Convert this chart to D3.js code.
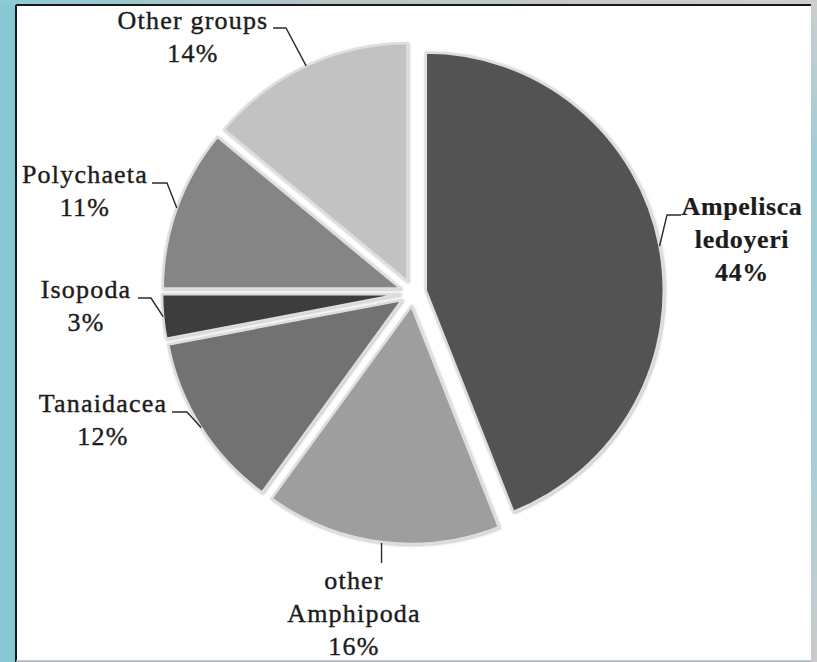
<!DOCTYPE html>
<html>
<head>
<meta charset="utf-8">
<script src="https://cdn.jsdelivr.net/npm/d3@7"></script>
<style>
  html, body { margin: 0; padding: 0; background: #85c9d5; }
  svg { display: block; }
</style>
</head>
<body>
<svg id="chart" width="817" height="662"></svg>
<script>
// Composition of the macrobenthic community (% of individuals)
const categories = ["Ampelisca ledoyeri", "other Amphipoda", "Tanaidacea", "Isopoda", "Polychaeta", "Other groups"];
const shares = [44, 16, 12, 3, 11, 14];
const labelLines = [["Ampelisca", "ledoyeri"], ["other", "Amphipoda"], ["Tanaidacea"], ["Isopoda"], ["Polychaeta"], ["Other groups"]];

// Grey fills for each slice, in category order
const sliceFills = ["#535353", "#9e9e9e", "#727272", "#3e3e3e", "#858585", "#c2c2c2"];

// Label placement: centre x, first baseline y, and leader elbow points from the text to the slice
const labelLayout = [
  { x: 742, y: 215, bold: true, lead: [[681, 215], [667, 215]] },
  { x: 354, y: 589, bold: false, lead: [], vertical: 563 },
  { x: 103, y: 412, bold: false, lead: [[172, 412], [187, 412]] },
  { x: 86,  y: 298, bold: false, lead: [[138, 298], [151, 298]] },
  { x: 85,  y: 183, bold: false, lead: [[152, 183], [167, 183]] },
  { x: 193, y: 29,  bold: false, lead: [[273, 28], [286, 28]] }
];

const W = 817, H = 662;
const cx = 413, cy = 293, R = 238, explode = 13;
const lineGap = 33;
const labelFont = "'Liberation Serif', 'Times New Roman', 'DejaVu Serif', serif";

const svg = d3.select("#chart");
const defs = svg.append("defs");

// frame: photo-like strips around a white panel
const topGrad = defs.append("linearGradient").attr("id", "topStrip");
topGrad.append("stop").attr("offset", "0%").attr("stop-color", "#8ccbd4");
topGrad.append("stop").attr("offset", "40%").attr("stop-color", "#b9c4c6");
topGrad.append("stop").attr("offset", "100%").attr("stop-color", "#cfcfcf");
const rightGrad = defs.append("linearGradient").attr("id", "rightStrip")
  .attr("x1", 0).attr("y1", 0).attr("x2", 0).attr("y2", 1);
rightGrad.append("stop").attr("offset", "0%").attr("stop-color", "#cdcdcd");
rightGrad.append("stop").attr("offset", "25%").attr("stop-color", "#9fcdd6");
rightGrad.append("stop").attr("offset", "70%").attr("stop-color", "#a9cfd6");
rightGrad.append("stop").attr("offset", "100%").attr("stop-color", "#cbcbcb");

svg.append("rect").attr("width", W).attr("height", H).attr("fill", "#85c9d5");
svg.append("rect").attr("x", 0).attr("y", 0).attr("width", W).attr("height", 5).attr("fill", "url(#topStrip)");
svg.append("rect").attr("x", 811).attr("y", 0).attr("width", 6).attr("height", H).attr("fill", "url(#rightStrip)");
svg.append("rect").attr("x", 16).attr("y", 5).attr("width", 795).attr("height", 656).attr("fill", "#ffffff");
svg.append("line").attr("x1", 16).attr("y1", 5).attr("x2", 16).attr("y2", H).attr("stroke", "#1a1a1a").attr("stroke-width", 2);
svg.append("line").attr("x1", 16).attr("y1", 5).attr("x2", 811).attr("y2", 5).attr("stroke", "#1a1a1a").attr("stroke-width", 2);
svg.append("line").attr("x1", 16).attr("y1", 661).attr("x2", 811).attr("y2", 661).attr("stroke", "#b5b5b5").attr("stroke-width", 1.5);

// soft shadow around slices
const shadow = defs.append("filter").attr("id", "sliceShadow")
  .attr("x", "-10%").attr("y", "-10%").attr("width", "120%").attr("height", "120%");
shadow.append("feDropShadow").attr("dx", 0.8).attr("dy", 0.8).attr("stdDeviation", 1.2)
  .attr("flood-color", "#8a8a8a").attr("flood-opacity", 0.55);

const pie = d3.pie().sort(null).value(d => d);
const arcs = pie(shares);
const arc = d3.arc().innerRadius(0).outerRadius(R);

const g = svg.append("g").attr("transform", `translate(${cx},${cy})`);

arcs.forEach((a, i) => {
  const mid = (a.startAngle + a.endAngle) / 2;
  const ox = Math.sin(mid) * explode, oy = -Math.cos(mid) * explode;
  g.append("path")
    .attr("d", arc(a))
    .attr("transform", `translate(${ox},${oy})`)
    .attr("fill", sliceFills[i])
    .attr("stroke", "#dedede")
    .attr("stroke-width", 2.5)
    .attr("stroke-linejoin", "round")
    .attr("filter", "url(#sliceShadow)");
});

// leader lines and labels
const labels = svg.append("g");
arcs.forEach((a, i) => {
  const mid = (a.startAngle + a.endAngle) / 2;
  const ax = cx + Math.sin(mid) * (R + explode);
  const ay = cy - Math.cos(mid) * (R + explode);
  const L = labelLayout[i];

  let pts;
  if (L.vertical !== undefined) {
    pts = [[ax, ay + 1], [ax, L.vertical]];
  } else {
    pts = L.lead.concat([[ax, ay]]);
  }
  labels.append("path")
    .attr("d", d3.line()(pts))
    .attr("fill", "none")
    .attr("stroke", "#2a2a2a")
    .attr("stroke-width", 1.4);

  const lines = labelLines[i].concat([`${shares[i]}%`]);
  const t = labels.append("text")
    .attr("text-anchor", "middle")
    .attr("font-family", labelFont)
    .attr("fill", "#1c1c1c")
    .attr("stroke", "#1c1c1c")
    .attr("stroke-width", L.bold ? 0.2 : 0.4)
    .attr("font-size", 26)
    .attr("font-weight", L.bold ? "bold" : "normal")
    .attr("letter-spacing", L.bold ? 0.6 : 1.2);
  lines.forEach((s, k) => {
    t.append("tspan").attr("x", L.x).attr("y", L.y + k * lineGap).text(s);
  });
});
</script>
</body>
</html>
